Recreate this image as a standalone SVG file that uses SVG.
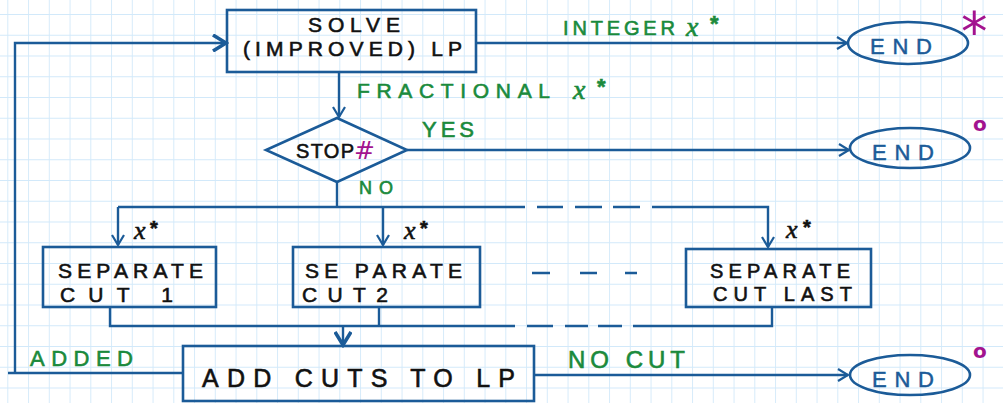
<svg xmlns="http://www.w3.org/2000/svg" width="1003" height="403" viewBox="0 0 1003 403">
<style>
.box{fill:none;stroke:#1b5b98;stroke-width:2.6}
.ln{fill:none;stroke:#1b5b98;stroke-width:2.4}
.dash{fill:none;stroke:#1b5b98;stroke-width:2.4}
.t{font-family:"Liberation Sans",Arial,sans-serif;fill:#111;stroke:#111;stroke-width:0.6}
.g{font-family:"Liberation Sans",Arial,sans-serif;fill:#1a8a3c;stroke:#1a8a3c;stroke-width:0.6}
.b{font-family:"Liberation Sans",Arial,sans-serif;fill:#1b5b98;stroke:#1b5b98;stroke-width:0.5;font-size:22px}
.m{font-family:"DejaVu Sans",sans-serif;fill:#a3138f}
.x{font-family:"Liberation Serif",serif;font-style:italic}
</style>
<defs>
<pattern id="grid" patternUnits="userSpaceOnUse" x="7.3" y="14" width="20.75" height="20.75">
<path d="M0,0 H20.75 M0,0 V20.75" stroke="#d2e9fa" stroke-width="1.8" fill="none"/>
</pattern>
<marker id="ar" markerWidth="14" markerHeight="14" refX="12" refY="7" orient="auto" markerUnits="userSpaceOnUse">
<path d="M2,1 L12,7 L2,13" fill="none" stroke="#1b5b98" stroke-width="2.2"/>
</marker>
<marker id="arb" markerWidth="18" markerHeight="18" refX="15" refY="9" orient="auto" markerUnits="userSpaceOnUse">
<path d="M2,1 L15,9 L2,17" fill="none" stroke="#1b5b98" stroke-width="3.6"/>
</marker>
</defs>
<rect width="1003" height="403" fill="#ffffff"/>
<rect width="1003" height="403" fill="url(#grid)"/>

<g id="connectors">
<path class="ln" d="M8,373 H182"/>
<path class="ln" d="M15,373 V43 H226" marker-end="url(#arb)"/>
<path class="ln" d="M476,43 H847" marker-end="url(#ar)"/>
<path class="ln" d="M339,72 V117" marker-end="url(#ar)"/>
<path class="ln" d="M407,150 H849" marker-end="url(#ar)"/>
<path class="ln" d="M337,182 V207"/>
<path class="ln" d="M118,207 H525"/>
<path class="dash" d="M537,207 H563 M575,207 H602 M613,207 H640"/>
<path class="ln" d="M652,207 H768 V247" marker-end="url(#ar)"/>
<path class="ln" d="M118,207 V245" marker-end="url(#ar)"/>
<path class="ln" d="M383,207 V245" marker-end="url(#ar)"/>
<path class="dash" d="M532,273 H550 M580,273 H597 M625,273 H637"/>
<path class="ln" d="M110,307 V326 H515"/>
<path class="ln" d="M379,307 V326"/>
<path class="dash" d="M527,326 H553 M565,326 H588 M598,326 H622"/>
<path class="ln" d="M633,326 H772 V307"/>
<path class="ln" d="M343,326 V345" marker-end="url(#arb)"/>
<path class="ln" d="M534,375 H848" marker-end="url(#ar)"/>
<text class="g" x="563" y="35" style="font-size:20px" textLength="112" lengthAdjust="spacing">INTEGER</text>
<text class="g x" x="686" y="36" style="font-size:28px">x</text><text class="g" x="710" y="31" style="font-size:22px;font-weight:bold">*</text>
<text class="g" x="357" y="98" style="font-size:21px" textLength="193" lengthAdjust="spacing">FRACTIONAL</text>
<text class="g x" x="573" y="99" style="font-size:28px">x</text><text class="g" x="597" y="94" style="font-size:22px;font-weight:bold">*</text>
<text class="g" x="422" y="137" style="font-size:22px" textLength="52" lengthAdjust="spacing">YES</text>
<text class="g" x="359" y="194" style="font-size:18px" textLength="34" lengthAdjust="spacing">NO</text>
<text class="g" x="30" y="366" style="font-size:22px" textLength="103" lengthAdjust="spacing">ADDED</text>
<text class="g" x="568" y="368" style="font-size:24px" textLength="117" lengthAdjust="spacing">NO CUT</text>
<text class="t x" x="134" y="239" style="font-size:26px">x</text><text class="t" x="150" y="235" style="font-size:20px;font-weight:bold">*</text>
<text class="t x" x="404" y="239" style="font-size:26px">x</text><text class="t" x="420" y="235" style="font-size:20px;font-weight:bold">*</text>
<text class="t x" x="786" y="238" style="font-size:26px">x</text><text class="t" x="803" y="234" style="font-size:20px;font-weight:bold">*</text>
</g>

<g id="solve">
<rect class="box" x="227" y="10" width="249" height="62"/>
<text class="t" x="308" y="32" style="font-size:21px" textLength="92" lengthAdjust="spacing">SOLVE</text>
<text class="t" x="243" y="56" style="font-size:21px" textLength="219" lengthAdjust="spacing">(IMPROVED) LP</text>
</g>

<g id="end1">
<ellipse class="box" cx="908" cy="43" rx="60" ry="21"/>
<text class="b" x="870" y="54" textLength="62" lengthAdjust="spacing">END</text>
<text class="m" x="961" y="50" style="font-size:53px">*</text>
</g>

<g id="stop">
<path class="box" d="M337,118 L407,150 L337,182 L266,150 Z"/>
<text class="t" x="296" y="158" style="font-size:20px" textLength="58" lengthAdjust="spacing">STOP</text>
<text class="m" x="354" y="159" style="font-size:25px">#</text>
</g>

<g id="end2">
<ellipse class="box" cx="910" cy="148" rx="60" ry="20"/>
<text class="b" x="872" y="160" textLength="62" lengthAdjust="spacing">END</text>
<text class="m" x="973" y="131" style="font-size:20px;font-weight:bold">o</text>
</g>

<g id="cut1">
<rect class="box" x="43" y="247" width="173" height="60"/>
<text class="t" x="58" y="278" style="font-size:21px" textLength="145" lengthAdjust="spacing">SEPARATE</text>
<text class="t" x="60" y="302" style="font-size:21px" textLength="113" lengthAdjust="spacing">CUT  1</text>
</g>

<g id="cut2">
<rect class="box" x="293" y="247" width="187" height="60"/>
<text class="t" x="305" y="278" style="font-size:21px" textLength="157" lengthAdjust="spacing">SE PARATE</text>
<text class="t" x="302" y="302" style="font-size:21px" textLength="86" lengthAdjust="spacing">CUT2</text>
</g>

<g id="cutlast">
<rect class="box" x="686" y="249" width="185" height="58"/>
<text class="t" x="710" y="278" style="font-size:20px" textLength="140" lengthAdjust="spacing">SEPARATE</text>
<text class="t" x="713" y="301" style="font-size:20px" textLength="139" lengthAdjust="spacing">CUT LAST</text>
</g>

<g id="addcuts">
<rect class="box" x="183" y="346" width="351" height="55"/>
<text class="t" x="202" y="387" style="font-size:25px" textLength="313" lengthAdjust="spacing">ADD CUTS TO LP</text>
</g>

<g id="end3">
<ellipse class="box" cx="910" cy="375" rx="60" ry="20"/>
<text class="b" x="872" y="387" textLength="62" lengthAdjust="spacing">END</text>
<text class="m" x="973" y="358" style="font-size:20px;font-weight:bold">o</text>
</g>
</svg>
